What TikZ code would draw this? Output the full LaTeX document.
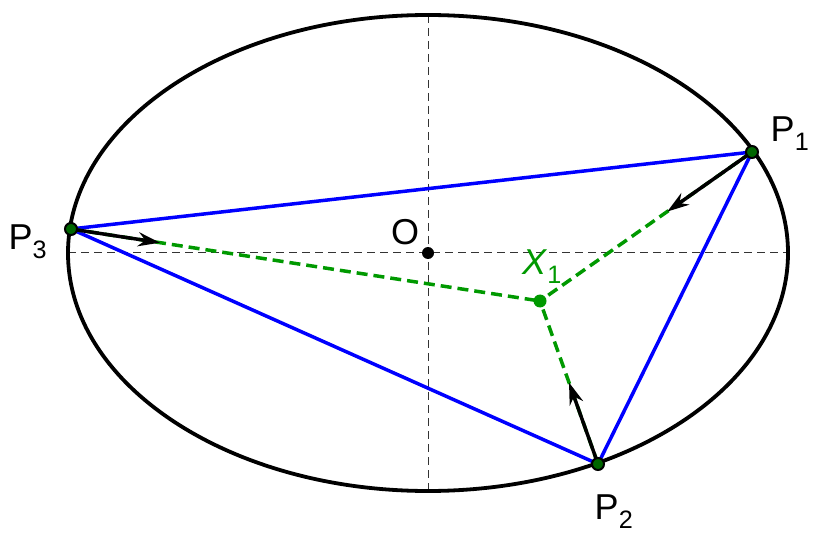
\documentclass[tikz,border=0pt]{standalone}
\usepackage{fontspec}
\setmainfont{Liberation Sans}
\usetikzlibrary{arrows.meta, calc}
\tikzset{
	pt/.style={circle, fill=black, inner sep=0pt, minimum size=12pt},
	lbl/.style={font=\fontsize{36}{36}\selectfont},
	cross/.style={dash pattern=on 8pt off 5pt, line width=1pt, black!80},
	side/.style={blue, line width=3.5pt},
	path/.style={green!60!black, dash pattern=on 11pt off 6pt, line width=3.5pt},
	force/.style={-{Stealth[length=22pt, width=14pt]}, line width=3.5pt}
}
\newcommand{\lsub}[1]{\textsubscript{#1}}
\begin{document}
\begin{tikzpicture}[x=1pt, y=-1pt]
	\useasboundingbox (0,0) rectangle (817,540);
	\draw[cross] (428,15) -- (428,492);
	\draw[cross] (68,253) -- (788,253);
	\draw[line width=3.8pt] (428,253) ellipse [x radius=360, y radius=238];
	\coordinate (P1) at (752,152);
	\coordinate (P2) at (598,464);
	\coordinate (P3) at (71,229);
	\coordinate (X1) at (540,301);
	\draw[side] (P1) -- (P2) -- (P3) -- cycle;
	\draw[path] (P1) -- (X1);
	\draw[path] (P2) -- (X1);
	\draw[path] (P3) -- (X1);
	\draw[force] (P1) -- ($(P1)!0.4!(X1)$);
	\draw[force] (P2) -- ($(P2)!0.5!(X1)$);
	\draw[force] (P3) -- ($(P3)!0.19!(X1)$);
	\node[pt] (o) at (428,253) {};
	\node[pt, fill=green!60!black, minimum size=13pt] (x) at (X1) {};
	\node[pt, fill=green!40!black, draw=black, line width=2pt] (p1) at (P1) {};
	\node[pt, fill=green!40!black, draw=black, line width=2pt] (p2) at (P2) {};
	\node[pt, fill=green!40!black, draw=black, line width=2pt] (p3) at (P3) {};
	\node[lbl] at (405,232) {O};
	\node[lbl] at (790,134) {P\lsub{1}};
	\node[lbl] at (614,512) {P\lsub{2}};
	\node[lbl] at (28,242) {P\lsub{3}};
	\node[lbl, green!60!black] at (542,267) {\textit{X}\lsub{1}};
\end{tikzpicture}
\end{document}
